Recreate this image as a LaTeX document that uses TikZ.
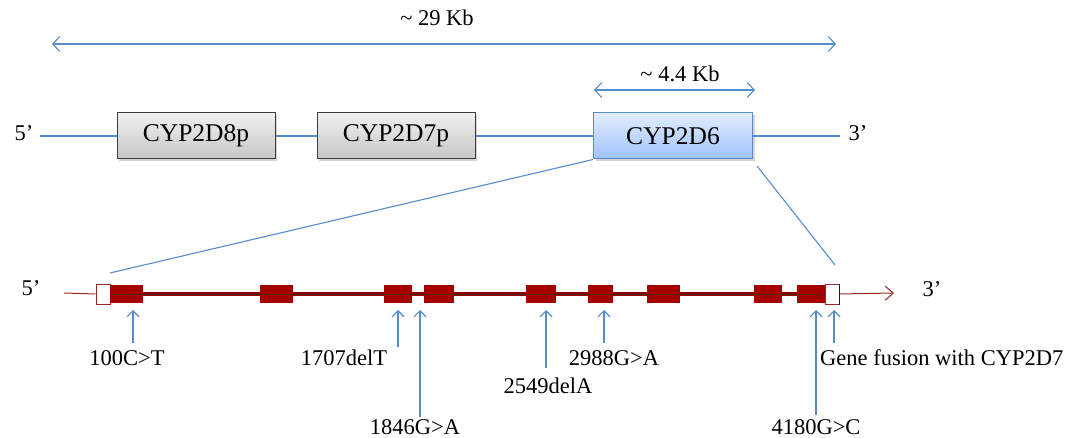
\documentclass[tikz,border=0pt]{standalone}
\usepackage{fontspec}
\setmainfont{Liberation Serif}
\usetikzlibrary{arrows.meta,shadows}
\definecolor{lblue}{RGB}{85,140,205}
\definecolor{exred}{RGB}{165,0,0}
\definecolor{gline}{RGB}{150,40,40}
\definecolor{gborder}{RGB}{60,60,60}
\tikzset{
  bl/.style={draw=lblue, line width=1.1pt},
  dimarr/.style={bl, {Straight Barb[length=7pt,width=15pt]}-{Straight Barb[length=7pt,width=15pt]}},
  mut/.style={bl, -{Straight Barb[length=6pt,width=12pt]}},
  graybox/.style={draw=gborder, line width=1pt, top color=white!94!black, bottom color=white!78!black,
    minimum width=158pt, minimum height=46pt, inner sep=0pt, font=\fontsize{25.5}{28}\selectfont,
    drop shadow={opacity=0.35, shadow xshift=2pt, shadow yshift=-2pt}},
  bluebox/.style={draw=lblue, line width=1pt, top color={rgb,255:red,225;green,237;blue,255}, bottom color={rgb,255:red,160;green,195;blue,250},
    minimum width=159pt, minimum height=46pt, inner sep=0pt, font=\fontsize{25.5}{28}\selectfont,
    drop shadow={opacity=0.35, shadow xshift=2pt, shadow yshift=-2pt}},
  exon/.style={fill=exred, draw=none, minimum height=18pt, inner sep=0pt},
  utr/.style={fill=white, draw=gline, line width=1pt, minimum width=14pt, minimum height=20pt, inner sep=0pt},
  lab/.style={font=\fontsize{22.5}{26}\selectfont, inner sep=0pt},
}
\begin{document}
\begin{tikzpicture}[x=1pt,y=-1pt]
\useasboundingbox (0,0) rectangle (1070,438);
% top scale
\coordinate (a29l) at (52,44);
\coordinate (a29r) at (836,44);
\draw[dimarr] (a29l) -- (a29r);
\node[lab] (t29) at (437,18) {\textasciitilde{} 29 Kb};
% gene locus
\node[lab] (p5) at (24,133) {5’};
\node[lab] (p3) at (858,133) {3’};
\coordinate (gl) at (40,136);
\coordinate (gr) at (840,136);
\node[graybox] (b8) at (196,136) {CYP2D8p};
\node[graybox] (b7) at (396,136) {CYP2D7p};
\node[bluebox] (b6) at (673,136) {CYP2D6};
\draw[bl] (gl) -- (b8.west);
\draw[bl] (b8.east) -- (b7.west);
\draw[bl] (b7.east) -- (b6.west);
\draw[bl] (b6.east) -- (gr);
% 4.4 kb
\coordinate (a4l) at (594,90);
\coordinate (a4r) at (755,90);
\draw[dimarr] (a4l) -- (a4r);
\node[lab] (t4) at (680,74) {\textasciitilde{} 4.4 Kb};
% gene structure
\node[lab] (q5) at (31,288) {5’};
\node[lab] (q3) at (932,289) {3’};
\coordinate (sl) at (64,293);
\coordinate (sr) at (894,293);
\node[utr] (u1) at (103,294) {};
\node[utr] (u2) at (832,294) {};
\draw[gline, line width=1pt] (sl) -- (u1.west);
\draw[gline, line width=1pt, -{Straight Barb[length=8pt,width=14pt]}] (u2.east) -- (sr);
\foreach \i/\a/\b in {1/110/143, 2/260/293, 3/384/412, 4/424/454, 5/526/556, 6/588/613, 7/647/680, 8/754/782, 9/797/825}{
  \node[exon, minimum width={(\b-\a)*1pt}] (e\i) at ({(\a+\b)/2},294) {};
}
\draw[exred!85!black, line width=4pt] (u1.east) -- (u2.west);
\foreach \i in {1,...,9}{ \fill[exred] (e\i.south west) rectangle (e\i.north east); }
\draw[gline!60!black, line width=0.8pt] (u1.east) -- (u2.west);
\draw[draw=blue, line width=1pt] (u2.north east) -- (u2.south east);
% zoom lines
\coordinate (z1) at (110,273);
\coordinate (z2) at (835,265);
\coordinate (z2s) at (757,166);
\draw[bl] (b6.south west) -- (z1);
\draw[bl] (z2s) -- (z2);
% mutations
\foreach \n/\x/\yb in {1/133/343, 2/398/347, 3/420/417, 4/546/368, 5/604/343, 6/816/415, 7/834/343}{
  \coordinate (mt\n) at (\x,310);
  \coordinate (mb\n) at (\x,\yb);
  \draw[mut] (mb\n) -- (mt\n);
}
\node[lab] (l1) at (127,358) {100C>T};
\node[lab] (l2) at (344,358) {1707delT};
\node[lab] (l3) at (415,427) {1846G>A};
\node[lab] (l4) at (548,386) {2549delA};
\node[lab] (l5) at (614,358) {2988G>A};
\node[lab] (l6) at (816,427) {4180G>C};
\node[lab, anchor=west] (l7) at (820,358) {Gene fusion with CYP2D7};
\end{tikzpicture}
\end{document}
